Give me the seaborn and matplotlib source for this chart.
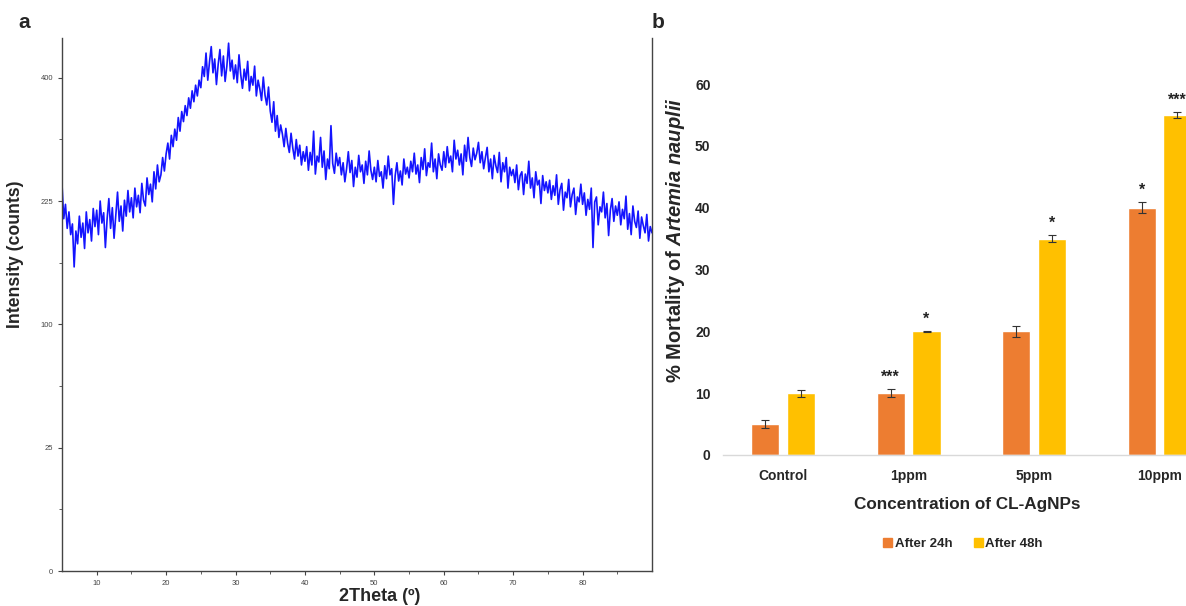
import numpy as np
import pandas as pd
import matplotlib
matplotlib.use("Agg")
import matplotlib.pyplot as plt
import matplotlib.patches as mpatches
import seaborn as sns

# panel a: XRD pattern, 2theta 5..90 step 0.25
twoTheta = np.arange(5.0, 90.01, 0.25)
counts = [
    246, 204, 221, 193, 212, 186, 198, 152, 190, 176, 207, 183, 199, 171, 212, 188, 203, 179, 216, 195,
    214, 186, 225, 199, 211, 172, 204, 228, 193, 217, 182, 209, 236, 201, 219, 190, 226, 207, 238, 212,
    229, 205, 241, 218, 232, 211, 247, 226, 219, 254, 233, 246, 224, 262, 240, 271, 249, 258, 281, 263,
    286, 301, 279, 312, 296, 321, 305, 338, 318, 347, 332, 356, 341, 368, 352, 379, 362, 388, 371, 396,
    384, 418, 402, 441, 396, 426, 452, 408, 431, 389, 422, 447, 403, 436, 394, 419, 458, 411, 429, 398,
    421, 392, 438, 405, 383, 414, 396, 427, 379, 402, 388, 419, 371, 396, 382, 364, 401, 372, 357, 385,
    348, 331, 362, 318, 341, 309, 327, 314, 296, 322, 301, 288, 315, 294, 279, 306, 283, 298, 271, 289,
    276, 296, 264, 288, 271, 318, 259, 283, 275, 309, 268, 290, 252, 279, 266, 326, 273, 260, 287, 270,
    281, 258, 274, 249, 266, 289, 261, 277, 243, 268, 255, 284, 262, 271, 247, 276, 258, 290, 264, 252,
    268, 249, 277, 256, 262, 241, 270, 253, 283, 258, 266, 221, 257, 274, 250, 263, 245, 279, 259, 268,
    254, 276, 262, 287, 259, 271, 248, 281, 265, 293, 257, 274, 268, 301, 262, 279, 253, 286, 271, 264,
    289, 268, 296, 274, 283, 262, 305, 279, 291, 271, 286, 258, 298, 276, 309, 281, 269, 294, 278, 287,
    302, 274, 289, 266, 281, 295, 262, 279, 253, 284, 270, 261, 288, 249, 274, 262, 281, 241, 268, 257,
    265, 248, 271, 239, 257, 262, 233, 259, 247, 276, 241, 254, 229, 262, 245, 251, 222, 257, 238, 249,
    235, 251, 227, 244, 232, 258, 221, 239, 247, 214, 236, 229, 252, 218, 233, 241, 209, 230, 224, 246,
    221, 235, 208, 227, 215, 241, 172, 224, 230, 197, 218, 212, 236, 205, 222, 185, 214, 228, 201, 219,
    208, 224, 197, 215, 204, 231, 192, 210, 186, 219, 201, 194, 213, 182, 206, 196, 188, 209, 179, 195,
    188,
]
yTicksA = [0, 25, 100, 225, 400]
xTicksA = [10, 20, 30, 40, 50, 60, 70, 80]

# panel b: mortality bars
concLabels = ["Control", "1ppm", "5ppm", "10ppm"]
mort24 = [5, 10, 20, 40]
mort48 = [10, 20, 35, 55]
err24 = [0.6, 0.6, 0.85, 0.9]
err48 = [0.55, 0.1, 0.55, 0.5]
stars24 = ["", "***", "", "*"]
stars48 = ["", "*", "*", "***"]
timeLabels = ["After 24h", "After 48h"]

sns.set_style("white")
plt.rcParams["font.family"] = ["Liberation Sans", "DejaVu Sans"]
plt.rcParams["mathtext.fontset"] = "custom"
plt.rcParams["mathtext.it"] = "Liberation Sans:italic:bold"
plt.rcParams["mathtext.rm"] = "Liberation Sans:bold"

fig = plt.figure(figsize=(11.86, 6.06), dpi=100)

# ---- panel a ----
axA = fig.add_axes([62/1186, 1-571/606, 590/1186, 533/606])
sns.lineplot(x=twoTheta, y=counts, ax=axA, color="#1414ff", lw=1.2, estimator=None)
axA.set_yscale("function", functions=(lambda v: np.sqrt(np.clip(v, 0, None)), np.square))
axA.set_ylim(0, 467)
axA.set_xlim(5, 90)
axA.set_yticks(yTicksA)
axA.set_yticks([6.25, 56.25, 156.25, 306.25], minor=True)
axA.set_xticks(xTicksA)
axA.set_xticks([15, 25, 35, 45, 55, 65, 75, 85], minor=True)
axA.set_yticklabels([str(v) for v in yTicksA], fontsize=5.5, color="#333333", fontstretch="condensed")
axA.set_xticklabels([str(v) for v in xTicksA], fontsize=5.5, color="#333333")
axA.tick_params(which="major", direction="out", length=3, width=0.8, colors="#444444", left=True, bottom=True)
axA.tick_params(which="minor", direction="out", length=2, width=0.6, colors="#444444", left=True, bottom=True)
for s in ["left", "bottom", "right"]:
    axA.spines[s].set_color("#444444")
    axA.spines[s].set_linewidth(1.0)
axA.spines["top"].set_visible(False)
axA.set_ylabel("Intensity (counts)", fontsize=12.7, fontweight="bold")
axA.yaxis.set_label_coords(-0.064, 0.595)
axA.set_xlabel("2Theta (º)", fontsize=13, fontweight="bold")
axA.xaxis.set_label_coords(0.539, -0.032)

# ---- panel b ----
axB = fig.add_axes([723/1186, 1-455/606, 488/1186, 371/606])
df = pd.DataFrame({
    "conc": concLabels * 2,
    "mort": mort24 + mort48,
    "time": [timeLabels[0]] * 4 + [timeLabels[1]] * 4,
})
colors = ["#ED7D31", "#FFC000"]
sns.barplot(data=df, x="conc", y="mort", hue="time", palette=colors, width=0.57, gap=0.21,
            errorbar=None, ax=axB, saturation=1)
axB.get_legend().remove()
for cont, vals, errs, stars in zip(axB.containers, [mort24, mort48], [err24, err48], [stars24, stars48]):
    xs = [b.get_x() + b.get_width() / 2 for b in cont]
    axB.errorbar(xs, vals, yerr=errs, fmt="none", ecolor="#333333", elinewidth=0.8, capsize=3, capthick=0.8)
    for x, v, e, st in zip(xs, vals, errs, stars):
        if st:
            axB.text(x, v + e + 0.7, st, ha="center", va="bottom", fontsize=11.5, fontweight="bold",
                     color="#222222", clip_on=False)
axB.set_xlim(-0.48, 3.41)
axB.set_ylim(0, 60)
axB.set_yticks([0, 10, 20, 30, 40, 50, 60])
axB.tick_params(axis="both", length=0)
axB.tick_params(axis="y", pad=9)
axB.tick_params(axis="x", pad=10)
for lab in axB.get_xticklabels() + axB.get_yticklabels():
    lab.set_fontweight("bold")
    lab.set_fontsize(10)
for s in ["left", "top", "right"]:
    axB.spines[s].set_visible(False)
axB.spines["bottom"].set_color("#d9d9d9")
axB.spines["bottom"].set_linewidth(1.0)
axB.set_xlabel("Concentration of CL-AgNPs", fontsize=12.3, fontweight="bold")
axB.xaxis.set_label_coords(0.5, -0.113)
axB.set_ylabel(r"% Mortality of $\it{Artemia\ nauplii}$", fontsize=14.5, fontweight="bold")
axB.yaxis.set_label_coords(-0.074, 0.58)

handles = [mpatches.Patch(color=c, label=l) for c, l in zip(colors, timeLabels)]
fig.legend(handles=handles, loc="center", bbox_to_anchor=(963/1186, 1-544/606), ncol=2, frameon=False,
           handlelength=0.7, handleheight=0.7, handletextpad=0.2, columnspacing=1.6,
           prop={"weight": "bold", "size": 9.5})

fig.text(18/1186, 1-22/606, "a", fontsize=15, fontweight="bold", ha="left", va="center")
fig.text(652/1186, 1-22/606, "b", fontsize=15, fontweight="bold", ha="left", va="center")

fig.savefig("out.png", dpi=100)
